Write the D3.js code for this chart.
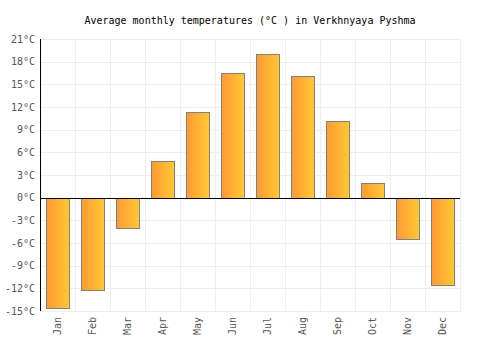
<!DOCTYPE html>
<html><head><meta charset="utf-8">
<script src="https://cdn.jsdelivr.net/npm/d3@7/dist/d3.min.js"></script>
<style>body{margin:0;background:#fff}svg{display:block}</style>
</head><body>
<script>
const months = ["Jan","Feb","Mar","Apr","May","Jun","Jul","Aug","Sep","Oct","Nov","Dec"];
const temps = [-14.6, -12.2, -4.0, 4.8, 11.4, 16.5, 19.0, 16.1, 10.2, 1.9, -5.5, -11.6];
const yTicks = [-15,-12,-9,-6,-3,0,3,6,9,12,15,18,21];
const title = "Average monthly temperatures (°C ) in Verkhnyaya Pyshma";

const W=500,H=350, m={l:40,r:40,t:39,b:39};
const svg=d3.select("body").append("svg").attr("width",W).attr("height",H);
const font="'DejaVu Sans Mono', monospace";
const defs=svg.append("defs");
const g=defs.append("linearGradient").attr("id","gr").attr("x1","0%").attr("x2","100%").attr("y1","0%").attr("y2","0%");
g.append("stop").attr("offset","0%").attr("stop-color","#ff9a33");
g.append("stop").attr("offset","100%").attr("stop-color","#ffc933");

const x=d3.scaleBand().domain(months).range([m.l,W-m.r]).paddingInner(0.34).paddingOuter(0.17);
const xg=d3.scaleBand().domain(months).range([m.l,W-m.r]);
const y=d3.scaleLinear().domain([-15,21]).range([H-m.b,m.t]);

// grid
svg.append("g").selectAll("line").data(yTicks).join("line")
 .attr("x1",m.l).attr("x2",W-m.r).attr("y1",d=>Math.round(y(d))+0.5).attr("y2",d=>Math.round(y(d))+0.5)
 .attr("stroke","#eeeeee");
svg.append("g").selectAll("line").data(months.concat(["end"])).join("line")
 .attr("x1",(d,i)=>Math.round(m.l+i*xg.bandwidth())+0.5).attr("x2",(d,i)=>Math.round(m.l+i*xg.bandwidth())+0.5)
 .attr("y1",m.t).attr("y2",H-m.b+0.5).attr("stroke","#eeeeee");

// bars
svg.append("g").selectAll("rect").data(temps).join("rect")
 .attr("x",(d,i)=>Math.round(x(months[i]))+0.5)
 .attr("width",Math.round(x.bandwidth()))
 .attr("y",d=>Math.round(y(Math.max(0,d)))+0.5)
 .attr("height",d=>Math.abs(Math.round(y(d))-Math.round(y(0))))
 .attr("fill","url(#gr)").attr("stroke","#808080").attr("stroke-width",1);

// zero line
svg.append("line").attr("x1",m.l).attr("x2",W-m.r).attr("y1",Math.round(y(0))+0.5).attr("y2",Math.round(y(0))+0.5).attr("stroke","#000");
// y axis line
svg.append("line").attr("x1",m.l+0.5).attr("x2",m.l+0.5).attr("y1",m.t).attr("y2",H-m.b).attr("stroke","#000");

// y labels
svg.append("g").selectAll("text").data(yTicks).join("text")
 .attr("x",m.l-5).attr("y",d=>y(d)).attr("dy","0.35em").attr("text-anchor","end")
 .attr("font-family",font).attr("font-size",10).attr("fill","#555").text(d=>d+"°C");
// x labels
svg.append("g").selectAll("text").data(months).join("text")
 .attr("transform",d=>`translate(${xg(d)+xg.bandwidth()/2},${H-m.b+6}) rotate(-90)`)
 .attr("dy","0.35em").attr("text-anchor","end")
 .attr("font-family",font).attr("font-size",10).attr("fill","#555").text(d=>d);
// title
svg.append("text").attr("x",W/2).attr("y",20).attr("dy","0.35em").attr("text-anchor","middle")
 .attr("font-family",font).attr("font-size",10).attr("fill","#000").text(title);
</script>
</body></html>
